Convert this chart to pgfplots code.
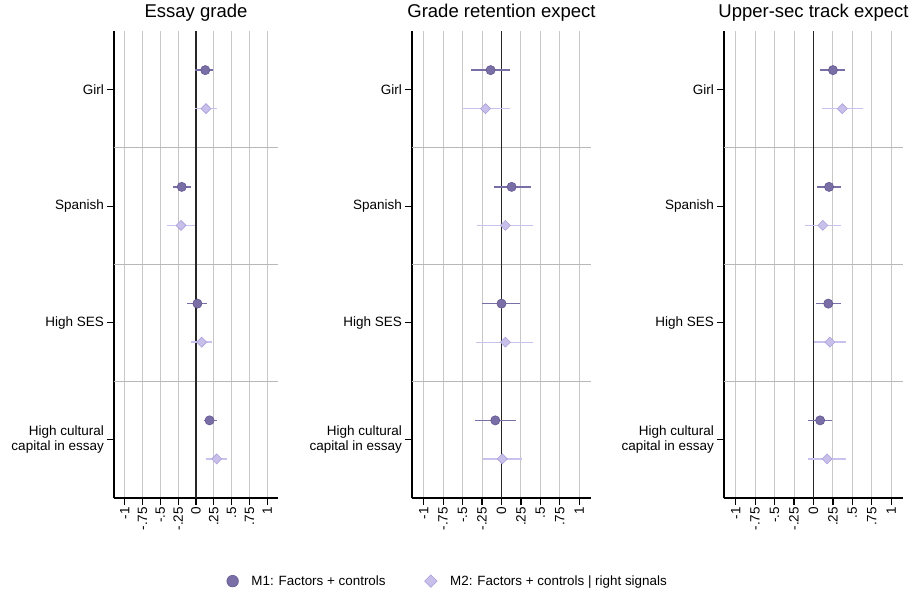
\documentclass[border=0pt]{standalone}
\usepackage{fontspec}
\setmainfont{Liberation Sans}
\usepackage{pgfplots}
\pgfplotsset{compat=1.18}
\usetikzlibrary{plotmarks}
\definecolor{mone}{RGB}{122,110,166}
\definecolor{monedk}{RGB}{100,88,146}
\definecolor{mtwo}{RGB}{200,192,235}
\definecolor{mtwodk}{RGB}{170,160,218}
\definecolor{mtwoci}{RGB}{200,194,238}
\newcommand{\lblfont}{\fontsize{13.5}{15}\selectfont}
\pgfplotsset{
  coefstyle/.style={
    scale only axis, height=467pt,
    y dir=reverse, ymin=0.5, ymax=4.5, xmin=-1.15, xmax=1.15,
    axis x line*=bottom, axis y line*=left,
    axis line style={black, line width=1.2pt},
    xtick={-1,-0.75,-0.5,-0.25,0,0.25,0.5,0.75,1},
    xticklabels={-1,-.75,-.5,-.25,0,.25,.5,.75,1},
    xticklabel style={rotate=90, anchor=east, font=\lblfont, inner sep=2pt},
    ytick={1,2,3,4},
    yticklabels={Girl,Spanish,High SES,{High cultural\\capital in essay}},
    yticklabel style={align=right, font=\lblfont, inner sep=3pt},
    tick align=outside, major tick length=7pt,
    tick style={black, line width=1.2pt},
    xmajorgrids, grid style={black!22, line width=1pt},
    extra y ticks={1.5,2.5,3.5}, extra y tick labels={},
    extra y tick style={grid=major, major tick length=0pt, grid style={black!28, line width=1pt}},
    title style={at={(0.5,1)}, anchor=south, inner sep=0pt, yshift=3pt, font=\fontsize{18.5}{20}\selectfont},
    clip=false,
  },
  zeroline/.style={forget plot, line width=1.5pt, draw=black!85, mark=none},
  mone/.style={only marks, mark=*, mark size=4.6pt, color=mone,
    mark options={fill=mone, draw=monedk, line width=0.6pt},
    legend image post style={mark size=5.8pt},
    error bars/.cd, x dir=both, x explicit, error mark=none,
    error bar style={color=mone, line width=1.4pt}},
  mtwo/.style={only marks, mark=diamond*, mark size=5pt, color=mtwo,
    mark options={fill=mtwo, draw=mtwodk, line width=0.6pt, xscale=1.33},
    legend image post style={mark size=6.3pt},
    error bars/.cd, x dir=both, x explicit, error mark=none,
    error bar style={color=mtwoci, line width=1.3pt}},
}
\begin{document}
\begin{tikzpicture}
\path[use as bounding box] (0,0) rectangle (911pt,-592pt);
% Panel 1
\begin{axis}[coefstyle, width=164pt, at={(114pt,-31pt)}, anchor=north west, title={Essay grade}]
\addplot[zeroline] coordinates {(0,0.5) (0,4.5)};
\addplot[mone] coordinates {
 (0.13,0.835) += (0.11,0) -= (0.15,0)
 (-0.20,1.835) += (0.13,0) -= (0.12,0)
 (0.02,2.835) += (0.14,0) -= (0.14,0)
 (0.19,3.835) += (0.10,0) -= (0.08,0)
};
\addplot[mtwo] coordinates {
 (0.14,1.165) += (0.15,0) -= (0.15,0)
 (-0.21,2.165) += (0.20,0) -= (0.19,0)
 (0.08,3.165) += (0.15,0) -= (0.15,0)
 (0.29,4.165) += (0.14,0) -= (0.15,0)
};
\end{axis}
% Panel 2
\begin{axis}[coefstyle, width=179pt, at={(412pt,-31pt)}, anchor=north west, title={Grade retention expect},
  legend columns=2,
  legend style={at={(0.2,-0.178)}, anchor=center, draw=none, fill=none, font=\fontsize{13.4}{15}\selectfont,
    /tikz/every odd column/.append style={column sep=11pt},
    /tikz/every even column/.append style={column sep=37pt}},
  legend cell align=left]
\addplot[zeroline] coordinates {(0,0.5) (0,4.5)};
\addplot[mone] coordinates {
 (-0.14,0.835) += (0.25,0) -= (0.25,0)
 (0.13,1.835) += (0.25,0) -= (0.23,0)
 (0.00,2.835) += (0.24,0) -= (0.25,0)
 (-0.08,3.835) += (0.26,0) -= (0.26,0)
};
\addlegendentry{M1: Factors + controls}
\addplot[mtwo] coordinates {
 (-0.205,1.165) += (0.315,0) -= (0.295,0)
 (0.05,2.165) += (0.36,0) -= (0.36,0)
 (0.05,3.165) += (0.36,0) -= (0.38,0)
 (0.01,4.165) += (0.25,0) -= (0.25,0)
};
\addlegendentry{M2: Factors + controls | right signals}
\end{axis}
% Panel 3
\begin{axis}[coefstyle, width=179pt, at={(724pt,-31pt)}, anchor=north west, title={Upper-sec track expect}]
\addplot[zeroline] coordinates {(0,0.5) (0,4.5)};
\addplot[mone] coordinates {
 (0.25,0.835) += (0.16,0) -= (0.17,0)
 (0.20,1.835) += (0.15,0) -= (0.15,0)
 (0.19,2.835) += (0.16,0) -= (0.16,0)
 (0.085,3.835) += (0.155,0) -= (0.15,0)
};
\addplot[mtwo] coordinates {
 (0.37,1.165) += (0.27,0) -= (0.255,0)
 (0.12,2.165) += (0.23,0) -= (0.23,0)
 (0.21,3.165) += (0.21,0) -= (0.21,0)
 (0.175,4.165) += (0.245,0) -= (0.24,0)
};
\end{axis}
\end{tikzpicture}
\end{document}
